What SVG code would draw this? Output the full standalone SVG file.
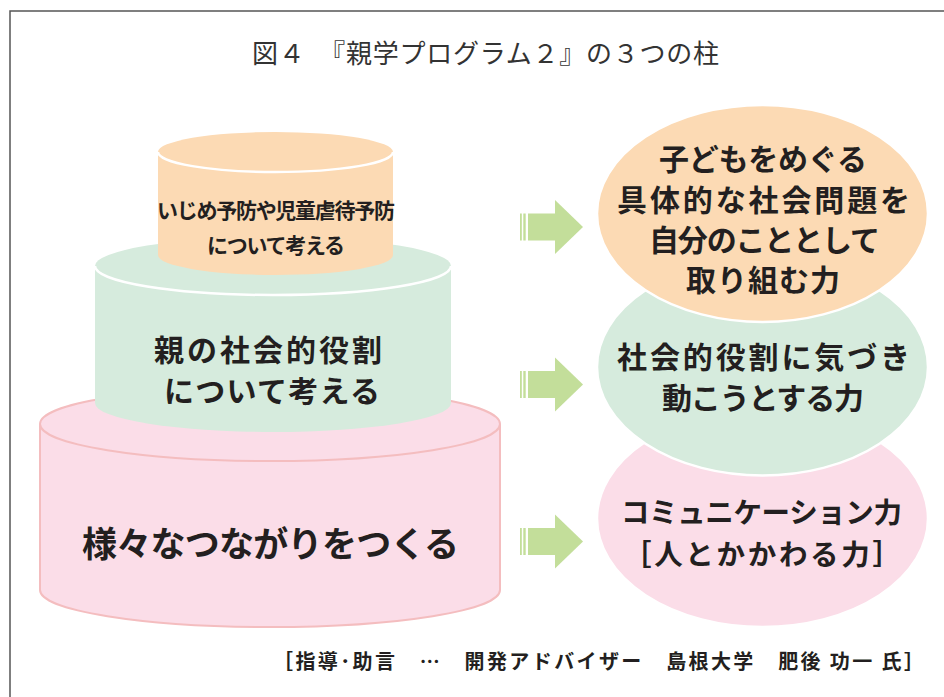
<svg xmlns="http://www.w3.org/2000/svg" width="944" height="697" viewBox="0 0 944 697">
<style>
  text { font-family: "Noto Sans CJK JP", "Noto Sans", sans-serif; fill: #231f20; }
  .title { font-size: 26px; font-weight: normal; fill: #333; }
  .lbl { font-weight: bold; }
  .frame { fill: none; stroke: #555; stroke-width: 1.5; }
  .wedge { fill: none; stroke: #fff; stroke-width: 2.5; }
  .orange { fill: #fcdab4; }
  .green { fill: #d6ebdd; }
  .pink { fill: #fbdde8; }
  .pinkline { fill: none; stroke: #f4bdbf; stroke-width: 2; }
  .oval { stroke: #fff; stroke-width: 2.5; }
  .arrow { fill: #c3de9a; }
</style>
<defs>
  <g id="arr">
    <rect x="520" y="-13.5" width="1.8" height="27" class="arrow"/>
    <rect x="523.3" y="-13.5" width="2.4" height="27" class="arrow"/>
    <rect x="528" y="-13.5" width="28" height="27" class="arrow"/>
    <polygon points="555,-27 583,0 555,27" class="arrow"/>
  </g>
</defs>
<rect width="944" height="697" fill="#fff"/>
<path class="frame" d="M10,697 V11 H944"/>

<g id="title">
  <text class="title" x="252" y="63" textLength="467" lengthAdjust="spacing">図４　『親学プログラム２』の３つの柱</text>
</g>

<g id="cyl-bottom">
  <path class="pink" d="M40,424 V590 A230,37 0 0 0 500,590 V424 Z"/>
  <ellipse class="pink" cx="270" cy="424" rx="230" ry="37"/>
  <path class="pinkline" d="M40,424 V590 A230,37 0 0 0 500,590 V424"/>
  <ellipse class="pinkline" cx="270" cy="424" rx="230" ry="37"/>
  <text class="lbl" x="82" y="557" font-size="35" textLength="377" lengthAdjust="spacing">様々なつながりをつくる</text>
</g>

<g id="cyl-middle">
  <path class="green" d="M95,266 V403 A178,29 0 0 0 451,403 V266 Z"/>
  <ellipse class="green" cx="273" cy="266" rx="178" ry="29"/>
  <path class="wedge" d="M95,266 A178,29 0 0 0 451,266"/>
  <text class="lbl" x="154" y="361" font-size="30" textLength="228" lengthAdjust="spacing">親の社会的役割</text>
  <text class="lbl" x="164" y="402" font-size="30" textLength="216" lengthAdjust="spacing">について考える</text>
</g>

<g id="cyl-top">
  <path class="orange" d="M158,152 V255 A117.5,20 0 0 0 393,255 V152 Z"/>
  <ellipse class="orange" cx="275.5" cy="152" rx="117.5" ry="20"/>
  <path class="wedge" d="M158,152 A117.5,20 0 0 0 393,152"/>
  <text class="lbl" x="157" y="218" font-size="21" textLength="238" lengthAdjust="spacing">いじめ予防や児童虐待予防</text>
  <text class="lbl" x="207" y="253" font-size="21" textLength="138" lengthAdjust="spacing">について考える</text>
</g>

<g id="connectors">
  <use href="#arr" transform="translate(0,227)"/>
  <use href="#arr" transform="translate(0,384.5)"/>
  <use href="#arr" transform="translate(0,541.5)"/>
</g>

<g id="oval-pink">
  <ellipse class="pink oval" cx="762.5" cy="518.5" rx="165.5" ry="108.5"/>
  <text class="lbl" x="621" y="523" font-size="28.5" textLength="281" lengthAdjust="spacing">コミュニケーション力</text>
  <text class="lbl" x="623" y="565" font-size="28.5" textLength="278" lengthAdjust="spacing">［人とかかわる力］</text>
</g>

<g id="oval-green">
  <ellipse class="green oval" cx="762.5" cy="367" rx="165.5" ry="108.5"/>
  <text class="lbl" x="617" y="368" font-size="30" textLength="293" lengthAdjust="spacing">社会的役割に気づき</text>
  <text class="lbl" x="662" y="409" font-size="30" textLength="202" lengthAdjust="spacing">動こうとする力</text>
</g>

<g id="oval-orange">
  <ellipse class="orange oval" cx="762.5" cy="213.5" rx="165.5" ry="108.5"/>
  <text class="lbl" x="659" y="170" font-size="30" textLength="208" lengthAdjust="spacing">子どもをめぐる</text>
  <text class="lbl" x="617" y="211" font-size="30" textLength="293" lengthAdjust="spacing">具体的な社会問題を</text>
  <text class="lbl" x="649" y="251" font-size="30" textLength="231" lengthAdjust="spacing">自分のこととして</text>
  <text class="lbl" x="686" y="291" font-size="30" textLength="154" lengthAdjust="spacing">取り組む力</text>
</g>

<g id="footer">
  <text class="lbl" x="273" y="669" font-size="20" textLength="651" lengthAdjust="spacing">［指導･助言　…　開発アドバイザー　島根大学　肥後 功一 氏］</text>
</g>
</svg>
